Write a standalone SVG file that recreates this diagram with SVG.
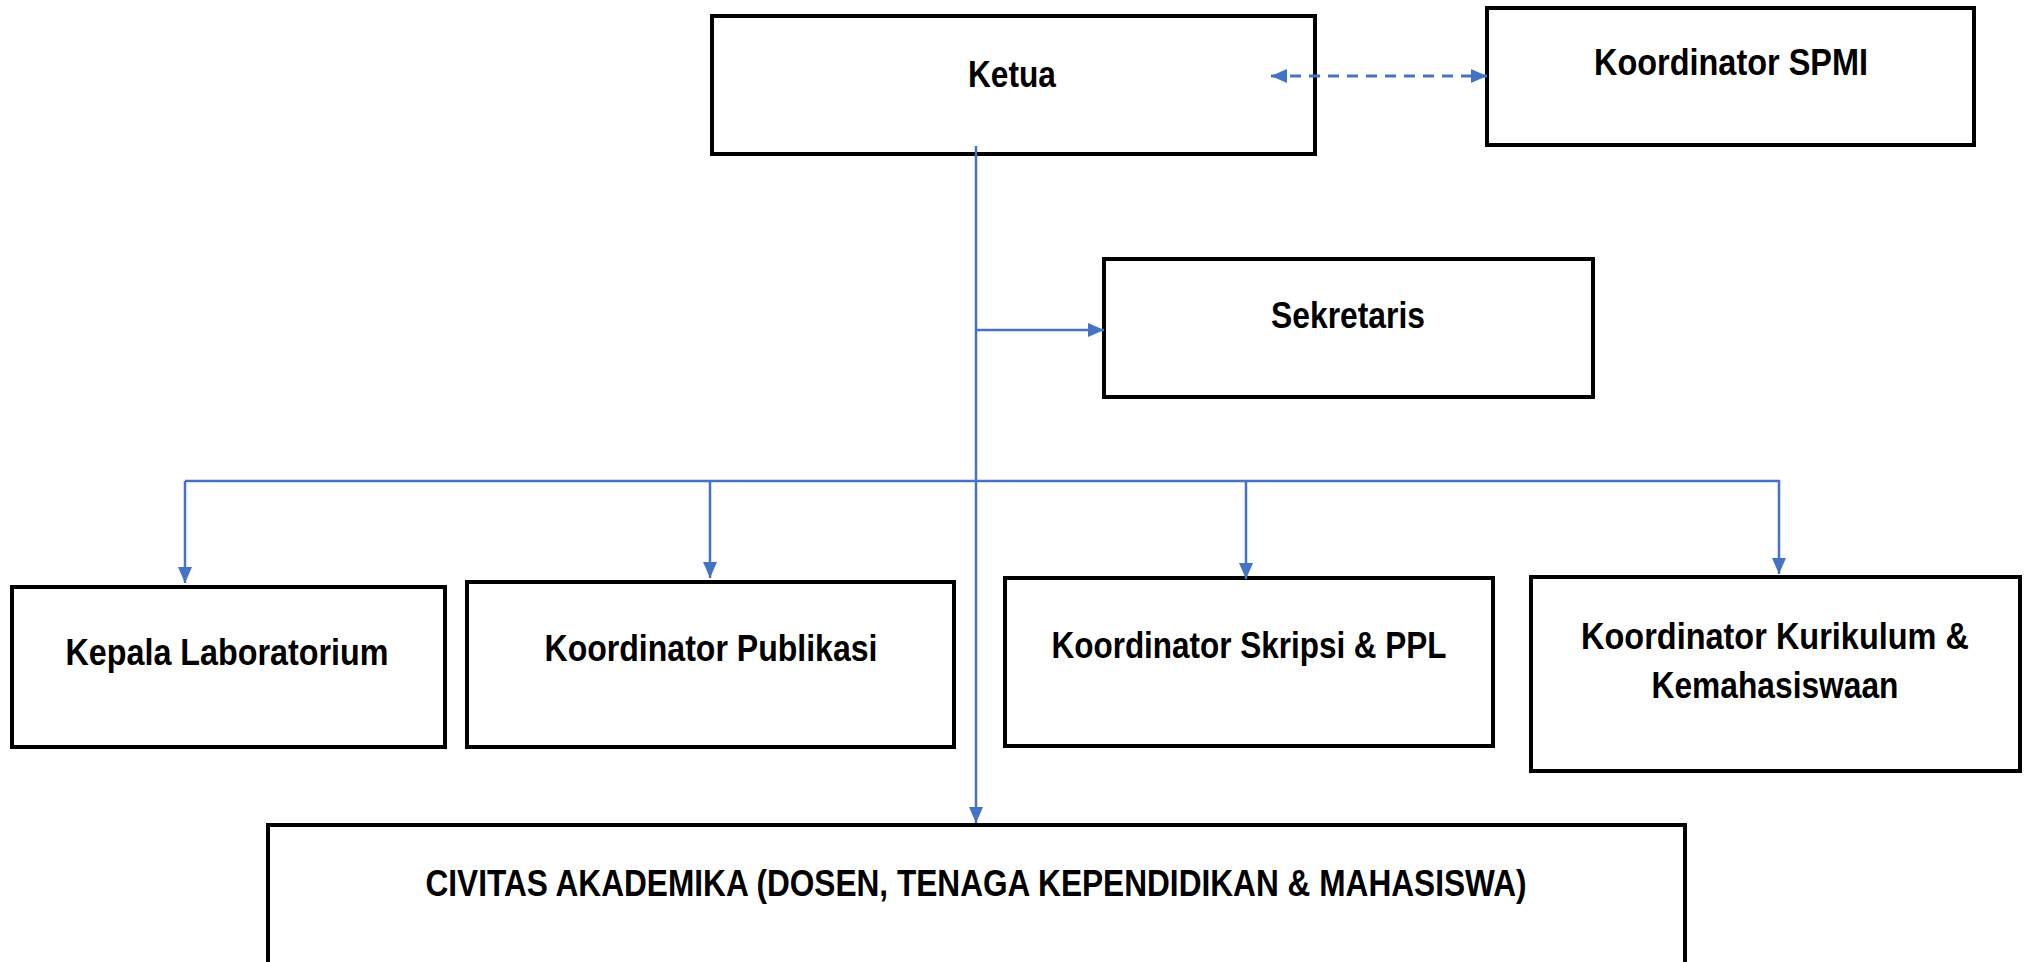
<svg xmlns="http://www.w3.org/2000/svg" width="2027" height="962" viewBox="0 0 2027 962">
<style>
.box{fill:#fff;stroke:#000;stroke-width:4}
.t{font-family:"Liberation Sans",Arial,sans-serif;font-weight:bold;font-size:37px;fill:#000;text-anchor:middle}
.c{fill:none;stroke:#4472C4;stroke-width:2.5}
.d{stroke-dasharray:11 8;stroke-width:3}
</style>
<defs>
<marker id="ah" markerUnits="userSpaceOnUse" markerWidth="16" markerHeight="14" refX="16" refY="7" orient="auto-start-reverse">
<path d="M0,0 L16,7 L0,14 Z" fill="#4472C4"/>
</marker>
</defs>
<g id="ketua"><rect class="box" x="712" y="16" width="603" height="138"/><text class="t" x="1012" y="87" textLength="88" lengthAdjust="spacingAndGlyphs">Ketua</text></g>
<g id="spmi"><rect class="box" x="1487" y="8" width="487" height="137"/><text class="t" x="1731" y="75" textLength="274" lengthAdjust="spacingAndGlyphs">Koordinator SPMI</text></g>
<g id="sekretaris"><rect class="box" x="1104" y="259" width="489" height="138"/><text class="t" x="1348" y="328" textLength="154" lengthAdjust="spacingAndGlyphs">Sekretaris</text></g>
<g id="kepala-lab"><rect class="box" x="12" y="587" width="433" height="160"/><text class="t" x="227" y="665" textLength="323" lengthAdjust="spacingAndGlyphs">Kepala Laboratorium</text></g>
<g id="publikasi"><rect class="box" x="467" y="582" width="487" height="165"/><text class="t" x="711" y="661" textLength="333" lengthAdjust="spacingAndGlyphs">Koordinator Publikasi</text></g>
<g id="skripsi"><rect class="box" x="1005" y="578" width="488" height="168"/><text class="t" x="1249" y="658" textLength="395" lengthAdjust="spacingAndGlyphs">Koordinator Skripsi &amp; PPL</text></g>
<g id="kurikulum"><rect class="box" x="1531" y="577" width="489" height="194"/><text class="t" x="1775" y="649" textLength="388" lengthAdjust="spacingAndGlyphs">Koordinator Kurikulum &amp;</text><text class="t" x="1775" y="698" textLength="247" lengthAdjust="spacingAndGlyphs">Kemahasiswaan</text></g>
<g id="civitas"><rect class="box" x="268" y="825" width="1417" height="150"/><text class="t" x="976" y="896" textLength="1101" lengthAdjust="spacingAndGlyphs">CIVITAS AKADEMIKA (DOSEN, TENAGA KEPENDIDIKAN &amp; MAHASISWA)</text></g>
<g id="connectors">
<line class="c d" x1="1271" y1="76" x2="1487" y2="76" marker-start="url(#ah)" marker-end="url(#ah)"/>
<line class="c" x1="976" y1="146" x2="976" y2="823" marker-end="url(#ah)"/>
<line class="c" x1="976" y1="330" x2="1104" y2="330" marker-end="url(#ah)"/>
<polyline class="c" points="185,481 1779,481 1779,574" marker-end="url(#ah)"/>
<line class="c" x1="185" y1="481" x2="185" y2="583" marker-end="url(#ah)"/>
<line class="c" x1="710" y1="481" x2="710" y2="578" marker-end="url(#ah)"/>
<line class="c" x1="1246" y1="481" x2="1246" y2="579" marker-end="url(#ah)"/>
</g>
</svg>
